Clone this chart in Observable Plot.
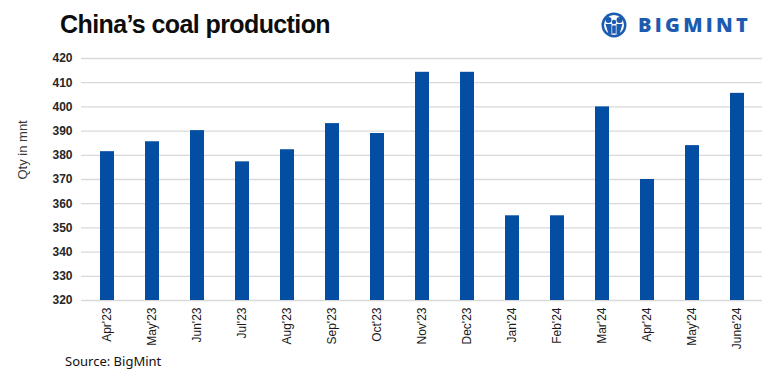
<!DOCTYPE html>
<html>
<head>
<meta charset="utf-8">
<script src="https://cdn.jsdelivr.net/npm/d3@7"></script>
<script src="https://cdn.jsdelivr.net/npm/@observablehq/plot@0.6"></script>
<style>
  html, body { margin: 0; padding: 0; background: #fff; }
  #wrap { position: relative; width: 783px; height: 380px; overflow: hidden; font-family: "Liberation Sans", Arial, sans-serif; }
  #header { position: relative; height: 45px; }
  #title { position: absolute; left: 60px; top: 12px; font-size: 25px; line-height: 25px; font-weight: bold; letter-spacing: -0.6px; color: #0d0d0d; white-space: nowrap; }
  #logo { position: absolute; left: 601px; top: 12px; height: 26px; display: flex; align-items: center; }
  #logo span { font-family: "Open Sans", sans-serif; font-weight: 800; font-size: 20px; letter-spacing: 3.3px; color: #1c5bb0; margin-left: 11px; line-height: 26px; }
  #chart svg { display: block; }
  #caption { margin-top: 3px; padding-left: 65px; font-family: "Noto Sans", sans-serif; font-size: 13px; line-height: 16px; color: #111; }
</style>
</head>
<body>
<div id="wrap">
  <div id="header">
    <div id="title">China’s coal production</div>
    <div id="logo">
      <svg width="26" height="26" viewBox="0 0 26 26">
        <circle cx="13" cy="13" r="12.5" fill="#1c5bb0"/>
        <circle cx="13" cy="13" r="10" fill="#fff"/>
        <circle cx="7.5" cy="8" r="3" fill="#1c5bb0"/>
        <circle cx="18.5" cy="8" r="3" fill="#1c5bb0"/>
        <circle cx="13" cy="10" r="2.2" fill="#1c5bb0"/>
        <path d="M4.5 12 h6 v10 h-3 z M15.5 12 h6 l-3 10 h-3 z M11.2 13.5 h3.6 v8 h-3.6 z" fill="#1c5bb0"/>
      </svg>
      <span>BIGMINT</span>
    </div>
  </div>
  <div id="chart"></div>
  <div id="caption">Source: BigMint</div>
</div>
<script>
const months = ["Apr'23", "May'23", "Jun'23", "Jul'23", "Aug'23", "Sep'23", "Oct'23", "Nov'23", "Dec'23", "Jan'24", "Feb'24", "Mar'24", "Apr'24", "May'24", "June'24"];
const production = [381.5, 385.6, 390.2, 377.3, 382.3, 393.1, 389.0, 414.3, 414.3, 355.0, 355.0, 400.0, 370.0, 384.0, 405.6];
const yTicks = [320, 330, 340, 350, 360, 370, 380, 390, 400, 410, 420];
const yLabel = "Qty in mnt";

const data = months.map((m, i) => ({month: m, value: production[i]}));

const chart = Plot.plot({
  width: 783,
  height: 305,
  marginTop: 13,
  marginBottom: 50,
  marginLeft: 81,
  marginRight: 21,
  style: {fontFamily: "'Liberation Sans', Arial, sans-serif", background: "#fff"},
  x: {domain: months, paddingInner: 0.69, paddingOuter: 0.345, label: null},
  y: {domain: [yTicks[0], yTicks[yTicks.length - 1]], label: null},
  marks: [
    Plot.ruleY(yTicks, {stroke: "#d9d9d9", strokeWidth: 1.3}),
    Plot.barY(data, {x: "month", y: "value", fill: "#034ea2", clip: true}),
    Plot.axisY({ticks: yTicks, tickSize: 0, tickPadding: 9, fontSize: 12, fontWeight: "bold", fill: "#262626", label: null}),
    Plot.axisX({tickSize: 0, tickPadding: 7, tickRotate: -90, fontSize: 12, fill: "#1a1a1a", label: null}),
    Plot.text([yLabel], {frameAnchor: "left", rotate: -90, dx: -59, fontSize: 13, fill: "#3a3a3a"})
  ]
});
document.getElementById("chart").appendChild(chart);
</script>
</body>
</html>
